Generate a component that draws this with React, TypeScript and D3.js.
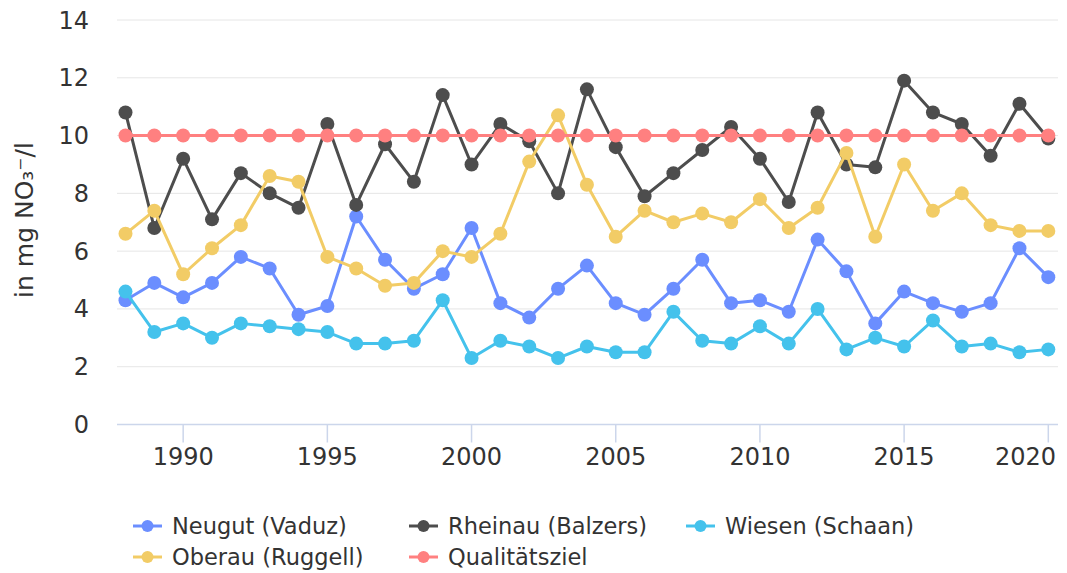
import React from 'react'
import * as d3 from 'd3'

// Jahre 1988 - 2020
const years: number[] = d3.range(1988, 2021)

const neugut: number[] = [4.3, 4.9, 4.4, 4.9, 5.8, 5.4, 3.8, 4.1, 7.2, 5.7, 4.7, 5.2, 6.8, 4.2, 3.7, 4.7, 5.5, 4.2, 3.8, 4.7, 5.7, 4.2, 4.3, 3.9, 6.4, 5.3, 3.5, 4.6, 4.2, 3.9, 4.2, 6.1, 5.1]
const rheinau: number[] = [10.8, 6.8, 9.2, 7.1, 8.7, 8.0, 7.5, 10.4, 7.6, 9.7, 8.4, 11.4, 9.0, 10.4, 9.8, 8.0, 11.6, 9.6, 7.9, 8.7, 9.5, 10.3, 9.2, 7.7, 10.8, 9.0, 8.9, 11.9, 10.8, 10.4, 9.3, 11.1, 9.9]
const wiesen: number[] = [4.6, 3.2, 3.5, 3.0, 3.5, 3.4, 3.3, 3.2, 2.8, 2.8, 2.9, 4.3, 2.3, 2.9, 2.7, 2.3, 2.7, 2.5, 2.5, 3.9, 2.9, 2.8, 3.4, 2.8, 4.0, 2.6, 3.0, 2.7, 3.6, 2.7, 2.8, 2.5, 2.6]
const oberau: number[] = [6.6, 7.4, 5.2, 6.1, 6.9, 8.6, 8.4, 5.8, 5.4, 4.8, 4.9, 6.0, 5.8, 6.6, 9.1, 10.7, 8.3, 6.5, 7.4, 7.0, 7.3, 7.0, 7.8, 6.8, 7.5, 9.4, 6.5, 9.0, 7.4, 8.0, 6.9, 6.7, 6.7]
const ziel: number[] = years.map(() => 10)

const seriesNames = ['Neugut (Vaduz)', 'Rheinau (Balzers)', 'Wiesen (Schaan)', 'Oberau (Ruggell)', 'Qualitätsziel']
const seriesColors = ['#6b8eff', '#4d4d4d', '#44c2ec', '#f2cc66', '#ff8080']
const seriesValues = [neugut, rheinau, wiesen, oberau, ziel]

const yTicks: number[] = [0, 2, 4, 6, 8, 10, 12, 14]
const xTicks: number[] = [1990, 1995, 2000, 2005, 2010, 2015, 2020]

const font = '"DejaVu Sans", Verdana, sans-serif'

export default function App() {
    let width = 1067, height = 573
    let plotLeft = 117, plotRight = 1058

    let x = d3.scaleLinear().domain([1988, 2020]).range([125.5, 1048.3])
    let y = d3.scaleLinear().domain([0, 14]).range([424.5, 20])

    let line = d3.line<number>()
        .x((d, i) => x(years[i]))
        .y(d => y(d))

    // legend slots (row, column)
    let legendPos = [[0, 0], [0, 1], [0, 2], [1, 0], [1, 1]]
    let colX = [133, 409, 686]
    let rowY = [526, 557]

    return (
        <svg width={width} height={height} style={{ position: 'absolute', left: 0, top: 0, fontFamily: font }}>
            <rect width={width} height={height} fill='white' />
            {yTicks.filter(t => t > 0).map(t => (
                <line key={'g' + t} x1={plotLeft} x2={plotRight} y1={y(t)} y2={y(t)} stroke='#e6e6e6' strokeWidth={1} />
            ))}
            {yTicks.map(t => (
                <text key={'yl' + t} x={89} y={y(t) + 8.5} textAnchor='end' fontSize={24} fill='#333'>{t}</text>
            ))}
            <text transform={'translate(33,220) rotate(-90)'} textAnchor='middle' fontSize={25} fill='#333'>
                in mg NO₃⁻/l
            </text>

            <line x1={plotLeft} x2={plotRight} y1={y(0)} y2={y(0)} stroke='#ccd6eb' strokeWidth={1.5} />
            {xTicks.map((t, i) => {
                let last = i === xTicks.length - 1
                return (
                    <g key={'x' + t}>
                        <line x1={x(t)} x2={x(t)} y1={y(0)} y2={y(0) + 18} stroke='#ccd6eb' strokeWidth={1.5} />
                        <text x={last ? 1056 : x(t)} y={465} textAnchor={last ? 'end' : 'middle'} fontSize={24} fill='#333'>{t}</text>
                    </g>
                )
            })}

            {seriesValues.map((vals, s) => (
                <g key={'s' + s}>
                    <path d={line(vals) || ''} fill='none' stroke={seriesColors[s]} strokeWidth={3} strokeLinejoin='round' />
                    {vals.map((v, i) => (
                        <circle key={i} cx={x(years[i])} cy={y(v)} r={7} fill={seriesColors[s]} />
                    ))}
                </g>
            ))}

            {seriesNames.map((name, s) => {
                let lx = colX[legendPos[s][1]]
                let ly = rowY[legendPos[s][0]]
                return (
                    <g key={'l' + s}>
                        <line x1={lx} x2={lx + 29} y1={ly} y2={ly} stroke={seriesColors[s]} strokeWidth={3} />
                        <circle cx={lx + 14.5} cy={ly} r={6} fill={seriesColors[s]} />
                        <text x={lx + 39} y={ly + 8} fontSize={22.5} fill='#333'>{name}</text>
                    </g>
                )
            })}
        </svg>
    )
}
